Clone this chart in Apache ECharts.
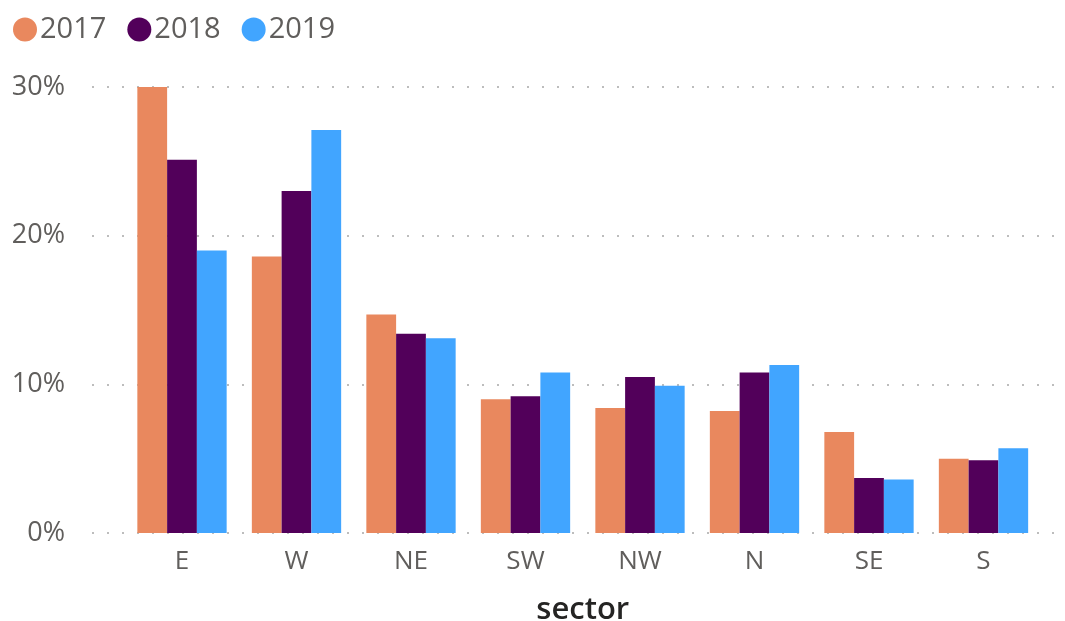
<!DOCTYPE html>
<html>
<head>
<meta charset="utf-8">
<title>Share by sector</title>
<script src="https://cdn.jsdelivr.net/npm/echarts@6/dist/echarts.min.js"></script>
<style>
  html, body { margin: 0; padding: 0; background: #ffffff; }
  #chart { width: 1065px; height: 621px; }
</style>
</head>
<body>
<div id="chart"></div>
<script>
// Sectors and yearly shares (percent)
const sectors = ['E', 'W', 'NE', 'SW', 'NW', 'N', 'SE', 'S'];
const years = ['2017', '2018', '2019'];
const share2017 = [30.0, 18.6, 14.7, 9.0, 8.4, 8.2, 6.8, 5.0];
const share2018 = [25.1, 23.0, 13.4, 9.2, 10.5, 10.8, 3.7, 4.9];
const share2019 = [19.0, 27.1, 13.1, 10.8, 9.9, 11.3, 3.6, 5.7];
const yTicks = [0, 10, 20, 30];

const colors = ['#E9885E', '#52005A', '#41A5FF'];
const seriesValues = [share2017, share2018, share2019];
const font = '"Open Sans", "Noto Sans", sans-serif';

const chart = echarts.init(document.getElementById('chart'), null, { renderer: 'canvas' });

const yMin = yTicks[0];
const yMax = yTicks[yTicks.length - 1];
const yStep = yTicks[1] - yTicks[0];

chart.setOption({
  animation: false,
  backgroundColor: '#ffffff',
  color: colors,
  legend: {
    data: years,
    left: 8,
    top: 10,
    icon: 'circle',
    itemWidth: 24,
    itemHeight: 24,
    itemGap: 21,
    textStyle: { fontFamily: font, fontSize: 29, color: '#605E5C', padding: [0, 0, 0, -2] }
  },
  grid: [
    // wide grid: carries the value labels and dotted gridlines
    { left: 92, right: 8, top: 87, bottom: 88, outerBoundsMode: 'none', containLabel: false },
    // inner grid: carries the bars and sector labels
    { left: 124.75, right: 24.25, top: 87, bottom: 88, outerBoundsMode: 'none', containLabel: false }
  ],
  xAxis: [
    { type: 'value', gridIndex: 0, show: false, min: 0, max: 1 },
    {
      type: 'category',
      gridIndex: 1,
      data: sectors,
      name: 'sector',
      nameLocation: 'middle',
      nameGap: 62,
      nameTextStyle: { fontFamily: font, fontSize: 31, fontWeight: 600, color: '#252423' },
      axisLine: { show: false },
      axisTick: { show: false },
      axisLabel: { fontFamily: font, fontSize: 26, color: '#605E5C', margin: 16 }
    }
  ],
  yAxis: [
    {
      type: 'value',
      gridIndex: 0,
      min: yMin,
      max: yMax,
      interval: yStep,
      axisLine: { show: false },
      axisTick: { show: false },
      axisLabel: {
        fontFamily: font,
        fontSize: 27,
        color: '#605E5C',
        margin: 27,
        formatter: v => v + '%'
      },
      splitLine: {
        show: true,
        lineStyle: { color: '#bdbdbd', width: 2, type: [2, 13] }
      }
    },
    {
      type: 'value',
      gridIndex: 1,
      min: yMin,
      max: yMax,
      interval: yStep,
      show: false,
      splitLine: { show: false }
    }
  ],
  series: years.map((y, i) => ({
    name: y,
    type: 'bar',
    xAxisIndex: 1,
    yAxisIndex: 1,
    data: seriesValues[i],
    barGap: '0%',
    barCategoryGap: '22%',
    itemStyle: { color: colors[i] }
  }))
});
</script>
</body>
</html>
